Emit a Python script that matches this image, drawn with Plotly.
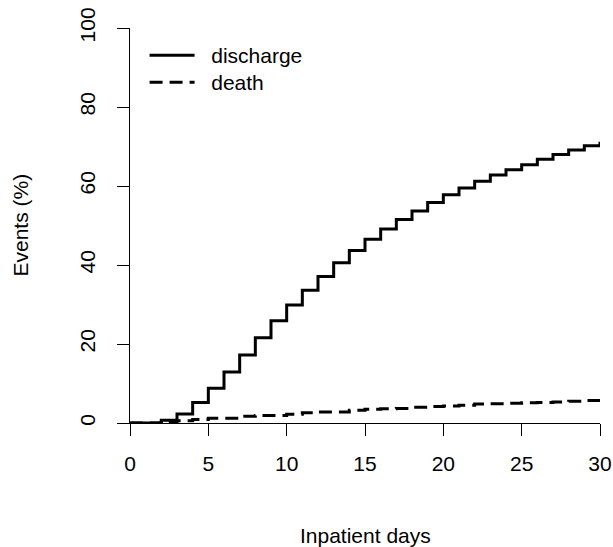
import plotly.graph_objects as go

days = list(range(0, 31))
discharge = [0, 0, 0.7, 2.3, 5.2, 8.8, 12.9, 17.2, 21.6, 25.9, 29.9, 33.6, 37.1, 40.6, 43.7,
             46.5, 49.1, 51.5, 53.7, 55.8, 57.8, 59.5, 61.2, 62.8, 64.1, 65.4, 66.8, 68.0,
             69.1, 70.2, 71.2]
death = [0, 0, 0.3, 0.6, 0.9, 1.2, 1.2, 1.7, 1.9, 1.9, 2.2, 2.6, 2.8, 2.8, 3.2, 3.5, 3.6,
         3.7, 4.0, 4.2, 4.3, 4.5, 4.8, 4.9, 5.0, 5.1, 5.2, 5.3, 5.5, 5.7, 5.7]

x_ticks = [0, 5, 10, 15, 20, 25, 30]
y_ticks = [0, 20, 40, 60, 80, 100]

FONT = "Liberation Sans, Arial, sans-serif"
FS = 21

fig = go.Figure()
fig.add_trace(go.Scatter(x=days, y=discharge, mode="lines", name="\u00a0\u00a0discharge",
                         legend="legend",
                         line=dict(color="black", width=3, shape="hv")))
fig.add_trace(go.Scatter(x=days, y=death, mode="lines", name="\u00a0\u00a0death",
                         legend="legend2",
                         line=dict(color="black", width=3, shape="hv", dash="13px,7px")))

leg_common = dict(x=0.031, xanchor="left", yanchor="top", bgcolor="rgba(0,0,0,0)",
                  borderwidth=0, font=dict(size=FS), itemwidth=45)

fig.update_layout(
    width=613, height=547,
    margin=dict(l=130, r=13, t=28, b=124, autoexpand=False),
    paper_bgcolor="white", plot_bgcolor="white",
    font=dict(family=FONT, size=FS, color="black"),
    showlegend=True,
    legend=dict(y=(423 - 35) / 395, **leg_common),
    legend2=dict(y=(423 - 62) / 395, **leg_common),
    xaxis=dict(range=[0, 30], tickvals=x_ticks, ticktext=[str(v) for v in x_ticks],
               automargin=False, ticklabeloverflow="allow",
               showgrid=False, zeroline=False, showline=True, linecolor="black", linewidth=1,
               ticks="outside", ticklen=12, tickwidth=1, tickcolor="black",
               ticklabelstandoff=10),
    yaxis=dict(range=[0, 100], tickvals=y_ticks, ticktext=[str(v) for v in y_ticks],
               automargin=False, ticklabeloverflow="allow",
               showgrid=False, zeroline=False, showline=True, linecolor="black", linewidth=1,
               ticks="outside", ticklen=12, tickwidth=1, tickcolor="black",
               tickangle=-90, ticklabelstandoff=14),
    annotations=[
        dict(text="Inpatient days", xref="paper", yref="paper", x=0.5, y=-(535 - 423) / 395,
             xanchor="center", yanchor="middle", showarrow=False, font=dict(size=FS)),
        dict(text="Events (%)", xref="paper", yref="paper", x=(20 - 130) / 470, y=0.5,
             xanchor="center", yanchor="middle", textangle=-90, showarrow=False,
             font=dict(size=FS)),
    ],
)

fig.write_html("out.html", config={"displayModeBar": False},
               post_script="document.body.style.margin='0';document.body.style.overflow='hidden';")
